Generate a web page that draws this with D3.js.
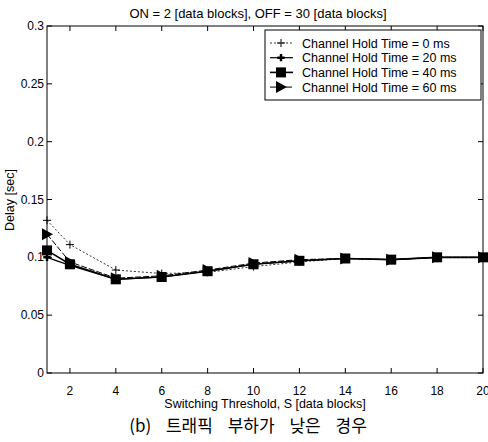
<!DOCTYPE html>
<html>
<head>
<meta charset="utf-8">
<script src="https://cdn.jsdelivr.net/npm/d3@7"></script>
<style>
body { margin: 0; background: #fff; }
svg text { font-family: Arial, "Liberation Sans", Helvetica, sans-serif; fill: #000; }
</style>
</head>
<body>
<svg width="488" height="442"></svg>
<script>
var thresholds = [1, 2, 4, 6, 8, 10, 12, 14, 16, 18, 20];
var hold0  = [0.132, 0.111, 0.089, 0.086, 0.087, 0.092, 0.096, 0.099, 0.098, 0.100, 0.100];
var hold20 = [0.100, 0.093, 0.081, 0.083, 0.088, 0.094, 0.097, 0.099, 0.098, 0.100, 0.100];
var hold40 = [0.106, 0.094, 0.081, 0.083, 0.088, 0.094, 0.097, 0.099, 0.098, 0.100, 0.100];
var hold60 = [0.120, 0.096, 0.082, 0.084, 0.089, 0.095, 0.098, 0.099, 0.098, 0.100, 0.100];
var seriesNames = ['Channel Hold Time = 0 ms', 'Channel Hold Time = 20 ms',
                   'Channel Hold Time = 40 ms', 'Channel Hold Time = 60 ms'];
var xTicks = [2, 4, 6, 8, 10, 12, 14, 16, 18, 20];
var yTicks = [0, 0.05, 0.1, 0.15, 0.2, 0.25, 0.3];
var yTickLabels = ['0', '0.05', '0.1', '0.15', '0.2', '0.25', '0.3'];

var svg = d3.select('svg');
var plotL = 47, plotR = 483, plotT = 26, plotB = 373;

var x = d3.scaleLinear().domain([1, 20]).range([plotL, plotR]);
var y = d3.scaleLinear().domain([0, 0.3]).range([plotB, plotT]);

// frame
svg.append('rect').attr('x', plotL).attr('y', plotT)
    .attr('width', plotR - plotL).attr('height', plotB - plotT)
    .attr('fill', 'none').attr('stroke', '#000').attr('stroke-width', 1);

// inward ticks, matlab style (all four sides)
var tl = 5;
xTicks.forEach(function(t){
    svg.append('line').attr('x1', x(t)).attr('x2', x(t)).attr('y1', plotB).attr('y2', plotB - tl).attr('stroke', '#000');
    svg.append('line').attr('x1', x(t)).attr('x2', x(t)).attr('y1', plotT).attr('y2', plotT + tl).attr('stroke', '#000');
});
yTicks.forEach(function(t){
    svg.append('line').attr('x1', plotL).attr('x2', plotL + tl).attr('y1', y(t)).attr('y2', y(t)).attr('stroke', '#000');
    svg.append('line').attr('x1', plotR).attr('x2', plotR - tl).attr('y1', y(t)).attr('y2', y(t)).attr('stroke', '#000');
});

// tick labels
svg.selectAll('.xl').data(xTicks).enter().append('text')
    .attr('x', function(d){ return x(d); }).attr('y', 395)
    .attr('text-anchor', 'middle').style('font-size', '12px')
    .text(function(d){ return d; });
svg.selectAll('.yl').data(yTicks).enter().append('text')
    .attr('x', 44).attr('y', function(d){ return y(d) + 4; })
    .attr('text-anchor', 'end').style('font-size', '12px')
    .text(function(d, i){ return yTickLabels[i]; });

// titles
svg.append('text').text('ON = 2 [data blocks], OFF = 30 [data blocks]')
    .attr('x', 258).attr('y', 18).attr('text-anchor', 'middle').style('font-size', '13px');
svg.append('text').text('Switching Threshold, S [data blocks]')
    .attr('x', 265).attr('y', 408).attr('text-anchor', 'middle').style('font-size', '12.5px');
svg.append('text').text('Delay [sec]')
    .attr('transform', 'translate(14,200)rotate(-90)').attr('text-anchor', 'middle').style('font-size', '12.5px');
svg.append('text')
    .attr('x', 248).attr('y', 432).attr('text-anchor', 'middle')
    .style('font-family', '"Noto Sans CJK KR", sans-serif').style('font-size', '17px')
    .style('word-spacing', '11px')
    .text('(b) 트래픽 부하가 낮은 경우');

// series
var styles = [
    {data: hold0,  dash: '2,2', width: 0.8, marker: 'plus'},
    {data: hold20, dash: null,  width: 1.2, marker: 'star'},
    {data: hold40, dash: null,  width: 1.6, marker: 'square'},
    {data: hold60, dash: '6,2', width: 1.0, marker: 'tri'}
];

var line = d3.line()
    .x(function(d){ return x(d[0]); })
    .y(function(d){ return y(d[1]); });

function drawMarker(g, type, px, py){
    if (type == 'plus') {
        g.append('path').attr('d', 'M' + (px - 4) + ',' + py + 'H' + (px + 4) + 'M' + px + ',' + (py - 4) + 'V' + (py + 4))
            .attr('stroke', '#000').attr('stroke-width', 1).attr('fill', 'none');
    } else if (type == 'star') {
        g.append('path').attr('d', d3.symbol().type(d3.symbolCross).size(30)())
            .attr('transform', 'translate(' + px + ',' + py + ')').attr('fill', '#000');
    } else if (type == 'square') {
        g.append('rect').attr('x', px - 5).attr('y', py - 5).attr('width', 10).attr('height', 10).attr('fill', '#000');
    } else {
        g.append('path').attr('d', 'M' + (px - 5) + ',' + (py - 6) + 'L' + (px + 6) + ',' + py + 'L' + (px - 5) + ',' + (py + 6) + 'Z')
            .attr('fill', '#000');
    }
}

styles.forEach(function(s){
    var pts = thresholds.map(function(t, i){ return [t, s.data[i]]; });
    svg.append('path').datum(pts).attr('d', line)
        .attr('fill', 'none').attr('stroke', '#000').attr('stroke-width', s.width)
        .attr('stroke-dasharray', s.dash);
    var g = svg.append('g');
    pts.forEach(function(p){ drawMarker(g, s.marker, x(p[0]), y(p[1])); });
});

// legend
var lg = svg.append('g');
lg.append('rect').attr('x', 265).attr('y', 30).attr('width', 216).attr('height', 70)
    .attr('fill', '#fff').attr('stroke', '#000');
styles.forEach(function(s, i){
    var ly = 43 + i * 14.7;
    lg.append('line').attr('x1', 270).attr('x2', 293).attr('y1', ly).attr('y2', ly)
        .attr('stroke', '#000').attr('stroke-width', s.width).attr('stroke-dasharray', s.dash);
    drawMarker(lg, s.marker, 281, ly);
    lg.append('text').attr('x', 302).attr('y', ly + 4.5).style('font-size', '12.5px').text(seriesNames[i]);
});
</script>
</body>
</html>
